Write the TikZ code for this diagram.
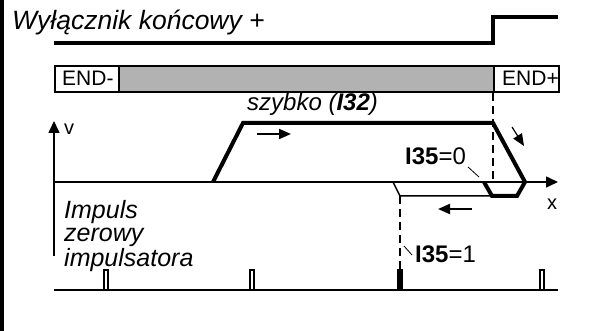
\documentclass[tikz,border=0pt]{standalone}
\usepackage{fontspec}
\setmainfont{Liberation Sans}
\usetikzlibrary{arrows.meta, positioning, calc}
\definecolor{bargray}{RGB}{178, 178, 178}
\definecolor{inkblack}{RGB}{0, 0, 0}

\tikzset{
  heavy/.style={line width=4pt, line join=miter, draw=inkblack},
  thinpath/.style={line width=1.5pt, draw=inkblack},
  axis/.style={line width=1.6pt, -{Triangle[length=12pt, width=11pt]}},
  dir arrow/.style={line width=2pt, -{Triangle[length=12pt, width=10pt]}},
  marker/.style={line width=1.5pt, dash pattern=on 8pt off 5pt},
  pointer/.style={line width=0.8pt},
  label/.style={inner sep=0pt, anchor=base west},
  cell/.style={draw, line width=2pt, minimum height=26pt, inner sep=0pt, anchor=north west},
  pulse/.style={line width=1.2pt}
}

\begin{document}
\begin{tikzpicture}[x=1pt, y=-1pt]
  \useasboundingbox (0,0) rectangle (602,331);
  \fill[inkblack] (0,0) rectangle (4,331);

  % limit switch signal
  \node[label, font=\fontsize{26.5}{28}\selectfont\itshape] (title) at (12,30) {Wyłącznik końcowy +};
  \draw[heavy] (54,43) -- (493,43) -- (493,17) -- (558,17);

  % travel range
  \node[cell, fill=bargray, minimum width=440pt] (range) at (118,65) {};
  \node[cell, fill=white, minimum width=64pt] (endminus) at (54,65) {};
  \node[cell, fill=white, minimum width=65pt] (endplus) at (493,65) {};
  \node[label, font=\fontsize{21}{24}\selectfont] (endmtxt) at (62,86) {END-};
  \node[label, font=\fontsize{21}{24}\selectfont] (endptxt) at (502,86) {END+};

  % axes
  \coordinate (origin) at (54,182);
  \coordinate (vtop) at (54,121);
  \coordinate (vbot) at (54,256);
  \coordinate (xend) at (558,182);
  \draw[axis] (vbot) -- (vtop);
  \draw[axis] (origin) -- (xend);
  \node[label, font=\fontsize{20}{22}\selectfont] (vlabel) at (64,135) {v};
  \node[label, font=\fontsize{20}{22}\selectfont] (xlabel) at (547,210) {x};

  % velocity profile
  \coordinate (rampa) at (213,182);
  \coordinate (rampb) at (243,123);
  \coordinate (brake) at (493,123);
  \coordinate (stop) at (525,182);
  \coordinate (revb) at (517,196);
  \coordinate (reva) at (492,196);
  \coordinate (leave) at (484,182);
  \coordinate (zeroa) at (400,196);
  \coordinate (zerob) at (393,182);
  \draw[heavy] (rampa) -- (rampb) -- (brake) -- (stop) -- (revb) -- (reva) -- (leave);
  \draw[thinpath] (reva) -- (zeroa) -- (zerob);

  \node[label, font=\fontsize{24}{26}\selectfont\itshape] (fast) at (247,111) {szybko (\textbf{I32})};
  \coordinate (fwda) at (257,134);
  \coordinate (fwdb) at (291,134);
  \draw[dir arrow] (fwda) -- (fwdb);
  \coordinate (backa) at (472,209);
  \coordinate (backb) at (438,209);
  \draw[dir arrow] (backa) -- (backb);
  \coordinate (slowa) at (512,127);
  \coordinate (slowb) at (524,146);
  \draw[dir arrow, line width=1.2pt] (slowa) -- (slowb);

  % switch and zero pulse markers
  \draw[marker] (endplus.south west) -- (origin -| endplus.south west);
  \coordinate (pulsetop) at (400,270);
  \draw[marker] (zeroa) -- (pulsetop);

  \node[label, font=\fontsize{24}{26}\selectfont] (izero) at (405,165) {\textbf{I35}=0};
  \coordinate (izeroa) at (468,167);
  \coordinate (izerob) at (479,177);
  \draw[pointer] (izeroa) -- (izerob);
  \node[label, font=\fontsize{24}{26}\selectfont] (ione) at (415,262) {\textbf{I35}=1};
  \coordinate (ionea) at (404,246);
  \coordinate (ioneb) at (412,255);
  \draw[pointer] (ionea) -- (ioneb);

  % encoder zero pulses
  \node[label, font=\fontsize{25}{23}\selectfont\itshape, align=left] (pulsetxt) at (64,266) {Impuls\\zerowy\\impulsatora};
  \coordinate (pbase) at (54,290);
  \coordinate (pend) at (558,290);
  \draw[line width=1.8pt] (pbase) -- (pend);
  \foreach \px in {106,252,542}
    \draw[pulse] (\px-2,290) rectangle (\px+2,270);
  \draw[pulse, fill=inkblack] (398,290) rectangle (402,270);
\end{tikzpicture}
\end{document}
